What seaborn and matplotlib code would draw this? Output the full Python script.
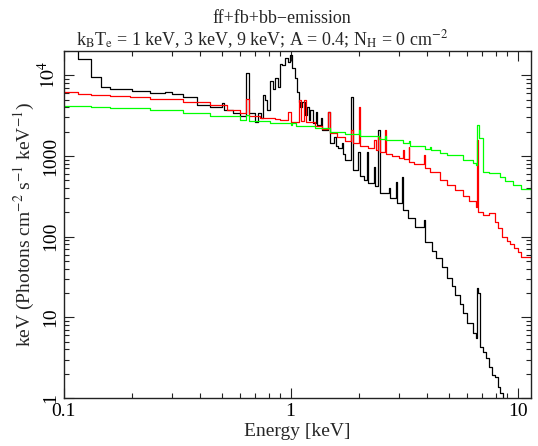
import matplotlib
matplotlib.use('Agg')
import matplotlib.pyplot as plt
import matplotlib.ticker as mticker
import seaborn as sns

# kT = 1 keV (black)
e_1kev = [0.100, 0.116, 0.132, 0.146, 0.160, 0.200, 0.240, 0.280, 0.300, 0.336,
          0.387, 0.440, 0.499, 0.510, 0.560, 0.600, 0.636, 0.655, 0.698, 0.720,
          0.740, 0.755, 0.773, 0.790, 0.813, 0.835, 0.856, 0.880, 0.900, 0.920,
          0.947, 0.970, 0.990, 1.010, 1.047, 1.070, 1.090, 1.102, 1.120, 1.159,
          1.180, 1.200, 1.219, 1.250, 1.290, 1.310, 1.360, 1.380, 1.465, 1.485,
          1.560, 1.580, 1.620, 1.680, 1.700, 1.740, 1.840, 1.880, 1.990, 2.015,
          2.100, 2.170, 2.195, 2.320, 2.345, 2.430, 2.470, 2.720, 2.745, 2.910,
          2.935, 3.110, 3.140, 3.300, 3.530, 3.880, 3.920, 4.200, 4.360, 4.670,
          4.900, 5.140, 5.310, 5.550, 5.760, 6.000, 6.370, 6.550, 6.630, 6.700,
          6.800, 7.050, 7.270, 7.490, 7.720, 7.960, 8.210, 8.380, 8.600, 8.800]
f_1kev = [30000, 15780, 9440, 7100, 6710, 6350, 5980, 6160, 5820, 5340,
          4250, 4000, 4500, 3690, 3380, 3110, 10590, 3380, 2620, 3380,
          2930, 5660, 4900, 3690, 8430, 6710, 9180, 7100, 13680, 13300,
          16250, 14490, 17700, 12210, 9180, 6160, 4630, 4020, 4630, 3200,
          4020, 2770, 3690, 2540, 3480, 2400, 2930, 2080, 3480, 1440,
          1710, 1330, 1250, 1440, 1050, 886, 5340, 666, 1110, 560,
          501, 1110, 460, 726, 420, 2080, 346, 400, 300, 473,
          260, 545, 213, 169, 131, 160, 85.5, 66.1, 54.2, 41.9,
          30.6, 24.4, 18.9, 14.6, 11.3, 8.5, 6.38, 5.6, 23.0, 20.0,
          4.28, 3.72, 3.13, 2.42, 1.93, 1.82, 1.37, 1.15, 0.8, 0.8]

# kT = 3 keV (red)
e_3kev = [0.100, 0.116, 0.132, 0.160, 0.196, 0.240, 0.336, 0.442, 0.525, 0.600,
          0.636, 0.655, 0.735, 0.856, 0.900, 0.970, 1.000, 1.090, 1.110, 1.150,
          1.170, 1.280, 1.380, 1.465, 1.485, 1.600, 1.740, 1.850, 1.880, 2.000,
          2.020, 2.200, 2.340, 2.370, 2.440, 2.470, 2.610, 2.635, 2.800, 3.000,
          3.120, 3.150, 3.310, 3.340, 3.500, 3.890, 3.920, 4.120, 4.560, 4.900,
          5.300, 5.760, 6.100, 6.570, 6.630, 6.720, 7.050, 7.500, 7.960, 8.210,
          8.500, 8.990, 9.270, 9.660, 10.00, 10.36, 11.46]
f_3kev = [6160, 5820, 5660, 5490, 5340, 5050, 4630, 4250, 3690, 3380,
          5050, 3110, 2930, 2850, 2770, 3480, 2620, 4900, 2690, 4900,
          2620, 2340, 2150, 3480, 1910, 1700, 1520, 2080, 1450, 4020,
          1320, 1250, 1570, 1180, 1710, 1110, 2080, 1060, 1000, 938,
          1180, 920, 1280, 850, 790, 1020, 700, 629, 501, 434,
          377, 317, 275, 232, 1570, 201, 185, 195, 151, 127,
          100, 88, 80, 72, 64, 56, 56]

# kT = 9 keV (green)
e_9kev = [0.100, 0.132, 0.160, 0.240, 0.336, 0.442, 0.600, 0.636, 0.655, 0.813,
          1.000, 1.020, 1.060, 1.280, 1.490, 1.740, 2.000, 2.020, 2.450, 2.610,
          2.635, 3.130, 3.340, 3.370, 3.900, 4.110, 4.140, 4.560, 4.900, 5.760,
          6.370, 6.570, 6.630, 6.760, 7.050, 7.500, 8.380, 8.800, 9.500, 10.36,
          11.46]
f_9kev = [4130, 4020, 3900, 3690, 3380, 3110, 2770, 3200, 2690, 2540,
          2400, 2540, 2330, 2210, 1970, 1860, 2080, 1760, 1610, 1750,
          1560, 1440, 1520, 1330, 1210, 1280, 1170, 1080, 1020, 886,
          813, 768, 2400, 1660, 629, 611, 545, 486, 433, 387,
          387]

y_ticks = [1, 10, 100, 1000, 10000]
x_ticks = [0.1, 1, 10]

sns.set_style('ticks')
plt.rcParams['font.family'] = ['Liberation Serif', 'DejaVu Serif']
plt.rcParams['mathtext.fontset'] = 'stix'

fig = plt.figure(figsize=(5.38, 4.46), dpi=100)
ax = fig.add_axes([63.5 / 538, 48 / 446, 467.5 / 538, 347 / 446])

sns.lineplot(x=e_1kev, y=f_1kev, drawstyle='steps-post', color='black', lw=0.9, ax=ax)
sns.lineplot(x=e_3kev, y=f_3kev, drawstyle='steps-post', color='#ff0000', lw=0.9, ax=ax)
sns.lineplot(x=e_9kev, y=f_9kev, drawstyle='steps-post', color='#00ff00', lw=0.9, ax=ax)

ax.set_xscale('log')
ax.set_yscale('log')
ax.set_xlim(0.1, 11.46)
ax.set_ylim(1, 20000)

ax.xaxis.set_major_locator(mticker.FixedLocator(x_ticks))
ax.xaxis.set_major_formatter(mticker.FuncFormatter(lambda v, p: '%g' % v))
ax.xaxis.set_minor_locator(mticker.LogLocator(subs=range(2, 10)))
ax.xaxis.set_minor_formatter(mticker.NullFormatter())
ax.yaxis.set_major_locator(mticker.FixedLocator(y_ticks))
ax.yaxis.set_major_formatter(mticker.FuncFormatter(
    lambda v, p: r'$10^4$' if v >= 10000 else '%d' % v))
ax.yaxis.set_minor_locator(mticker.LogLocator(subs=range(2, 10)))
ax.yaxis.set_minor_formatter(mticker.NullFormatter())

ax.tick_params(which='both', direction='in', top=True, right=True, width=0.8,
               colors='#222222', labelcolor='black', labelsize=14)
ax.tick_params(which='major', length=7)
ax.tick_params(which='minor', length=3.5)
ax.tick_params(axis='y', labelrotation=90, pad=3)
for lbl in ax.get_yticklabels():
    lbl.set_va('center')
for s in ax.spines.values():
    s.set_linewidth(1.0)
    s.set_color('#222222')

ax.set_xlabel('Energy [keV]', fontsize=14, labelpad=2)
ax.set_ylabel(r'keV (Photons cm$^{-2}$ s$^{-1}$ keV$^{-1}$)', fontsize=14, labelpad=0)

fig.text(282 / 538, (446 - 23) / 446, 'ff+fb+bb\u2212emission',
         ha='center', va='baseline', fontsize=13)
fig.text(262 / 538, (446 - 45) / 446,
         r'k$_{\rm B}$T$_{\rm e}$ = 1 keV, 3 keV, 9 keV; A = 0.4; N$_{\rm H}$ = 0 cm$^{-2}$',
         ha='center', va='baseline', fontsize=13)

fig.savefig('out.png', dpi=100, facecolor='white')
